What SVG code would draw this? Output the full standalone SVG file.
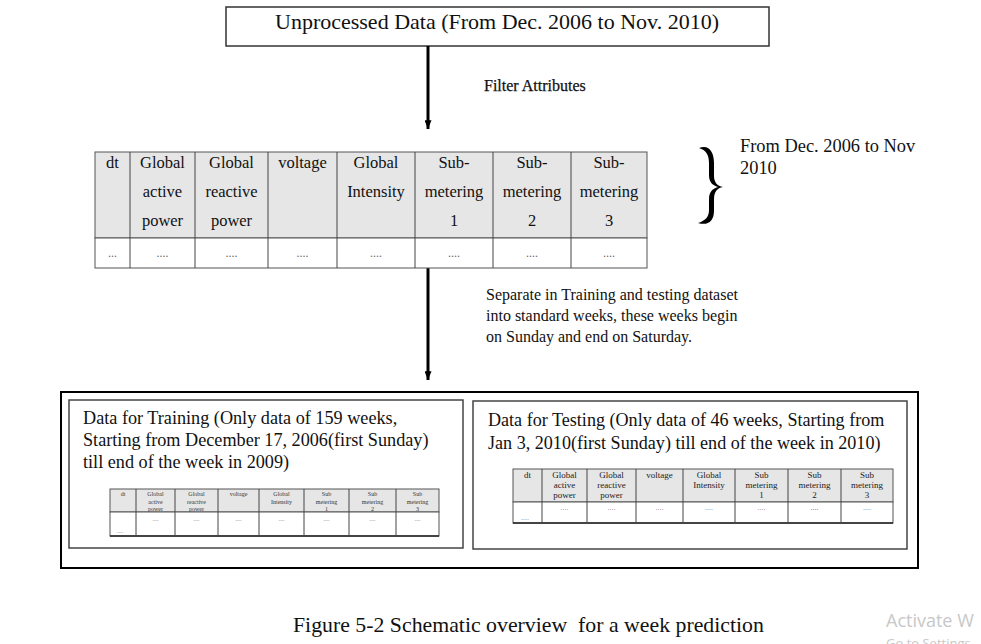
<svg xmlns="http://www.w3.org/2000/svg" width="981" height="644" viewBox="0 0 981 644">
  <style>
    .serif { font-family: "Liberation Serif", "Times New Roman", serif; fill: #111; }
    .box { fill: #fff; stroke: #333; stroke-width: 1.5; }
    .outer { fill: none; stroke: #000; stroke-width: 2; }
    .inner { fill: #fff; stroke: #444; stroke-width: 1.5; }
    .hdr { fill: #e6e6e6; stroke: #555; stroke-width: 1; }
    .cell { fill: #fff; stroke: #555; stroke-width: 1; }
    .grid { stroke: #444; stroke-width: 1; }
    .flow { stroke: #000; stroke-width: 3; fill: none; }
    .t16 { font-size: 16px; }
    .th { font-size: 16.5px; text-anchor: middle; }
    .dots { font-size: 12px; fill: #666; text-anchor: middle; }
    .small1 { font-size: 6px; text-anchor: middle; fill: #333; }
    .small2 { font-size: 9px; text-anchor: middle; fill: #222; }
    .sdots1 { font-size: 6px; fill: #888; text-anchor: middle; }
    .sdots2 { font-size: 8px; fill: #888; text-anchor: middle; }
    .wm { font-family: "Open Sans", "Noto Sans", sans-serif; fill: #c8c8c8; }
  </style>
  <defs>
    <marker id="head" viewBox="0 0 10 8" refX="10" refY="4" markerWidth="9" markerHeight="7" markerUnits="userSpaceOnUse" orient="auto">
      <path d="M0,0 L10,4 L0,8 Z" fill="#000"/>
    </marker>
  </defs>

  <!-- source data box -->
  <g id="node-unprocessed">
    <rect class="box" x="226" y="7" width="543" height="39"/>
    <text class="serif" x="497" y="29" font-size="22" text-anchor="middle">Unprocessed Data (From Dec. 2006 to Nov. 2010)</text>
  </g>

  <!-- connectors -->
  <g id="connectors">
    <line class="flow" x1="428" y1="46" x2="428" y2="129" marker-end="url(#head)"/>
    <line class="flow" x1="428" y1="268" x2="428" y2="380" marker-end="url(#head)"/>
  </g>

  <g id="label-filter">
    <text class="serif t16" x="484" y="91" stroke="#111" stroke-width="0.25">Filter Attributes</text>
  </g>

  <g id="label-separate">
    <text class="serif t16" x="486" y="300">Separate in Training and testing dataset</text>
    <text class="serif t16" x="486" y="321">into standard weeks, these weeks begin</text>
    <text class="serif t16" x="486" y="342">on Sunday and end on Saturday.</text>
  </g>

  <!-- attribute table -->
  <g id="node-attributes">
    <rect class="hdr" x="95" y="152" width="552" height="86"/>
    <rect class="cell" x="95" y="238" width="552" height="30"/>
    <g class="grid">
      <line x1="130" y1="152" x2="130" y2="268"/>
      <line x1="195" y1="152" x2="195" y2="268"/>
      <line x1="268" y1="152" x2="268" y2="268"/>
      <line x1="337" y1="152" x2="337" y2="268"/>
      <line x1="415" y1="152" x2="415" y2="268"/>
      <line x1="493" y1="152" x2="493" y2="268"/>
      <line x1="571" y1="152" x2="571" y2="268"/>
    </g>
    <g class="serif th">
      <text x="112.5" y="168">dt</text>
      <text x="162.5" y="168">Global</text>
      <text x="162.5" y="197">active</text>
      <text x="162.5" y="226">power</text>
      <text x="231.5" y="168">Global</text>
      <text x="231.5" y="197">reactive</text>
      <text x="231.5" y="226">power</text>
      <text x="302.5" y="168">voltage</text>
      <text x="376" y="168">Global</text>
      <text x="376" y="197">Intensity</text>
      <text x="454" y="168">Sub-</text>
      <text x="454" y="197">metering</text>
      <text x="454" y="226">1</text>
      <text x="532" y="168">Sub-</text>
      <text x="532" y="197">metering</text>
      <text x="532" y="226">2</text>
      <text x="609" y="168">Sub-</text>
      <text x="609" y="197">metering</text>
      <text x="609" y="226">3</text>
    </g>
    <g class="serif dots">
      <text x="112.5" y="257">...</text>
      <text x="162.5" y="257">....</text>
      <text x="231.5" y="257">....</text>
      <text x="302.5" y="257">....</text>
      <text x="376" y="257">....</text>
      <text x="454" y="257">....</text>
      <text x="532" y="257">....</text>
      <text x="609" y="257">....</text>
    </g>
  </g>

  <!-- date range brace -->
  <g id="node-range">
    <path d="M699 148 C709 144 714 152 714 163 L714 176 C714 182 717 186 723 187 C717 188 714 192 714 199 L714 211 C714 221 708 226 698 223 C705 221 709 217 709 210 L709 199 C709 192 712 189 718 187 C712 185 709 182 709 175 L709 163 C709 155 706 150 699 148 Z" fill="#000"/>
    <text class="serif" x="740" y="152" font-size="18.4">From Dec. 2006 to Nov</text>
    <text class="serif" x="740" y="174" font-size="18.4">2010</text>
  </g>

  <!-- split datasets -->
  <g id="node-split">
    <rect class="outer" x="61" y="392" width="857" height="176"/>
  </g>

  <g id="node-training">
    <rect class="inner" x="69" y="400" width="394" height="148"/>
    <text class="serif" x="83" y="424" font-size="18.2">Data for Training (Only data of 159 weeks,</text>
    <text class="serif" x="83" y="446" font-size="18.2">Starting from December 17, 2006(first Sunday)</text>
    <text class="serif" x="83" y="468" font-size="18.2">till end of the week in 2009)</text>
    <rect class="hdr" x="110" y="489" width="329" height="23"/>
    <rect class="cell" x="110" y="512" width="329" height="24"/>
    <line x1="110" y1="536" x2="439" y2="536" stroke="#222" stroke-width="1.5"/>
    <g class="grid">
      <line x1="136" y1="489" x2="136" y2="536"/>
      <line x1="175" y1="489" x2="175" y2="536"/>
      <line x1="218" y1="489" x2="218" y2="536"/>
      <line x1="259" y1="489" x2="259" y2="536"/>
      <line x1="304" y1="489" x2="304" y2="536"/>
      <line x1="349" y1="489" x2="349" y2="536"/>
      <line x1="396" y1="489" x2="396" y2="536"/>
    </g>
    <g class="serif small1">
      <text x="123" y="496">dt</text>
      <text x="155.5" y="496">Global</text>
      <text x="155.5" y="503.5">active</text>
      <text x="155.5" y="511">power</text>
      <text x="196.5" y="496">Global</text>
      <text x="196.5" y="503.5">reactive</text>
      <text x="196.5" y="511">power</text>
      <text x="238.5" y="496">voltage</text>
      <text x="281.5" y="496">Global</text>
      <text x="281.5" y="503.5">Intensity</text>
      <text x="326.5" y="496">Sub</text>
      <text x="326.5" y="503.5">metering</text>
      <text x="326.5" y="511">1</text>
      <text x="372.5" y="496">Sub</text>
      <text x="372.5" y="503.5">metering</text>
      <text x="372.5" y="511">2</text>
      <text x="417.5" y="496">Sub</text>
      <text x="417.5" y="503.5">metering</text>
      <text x="417.5" y="511">3</text>
    </g>
    <g class="serif sdots1">
      <text x="120" y="533">....</text>
      <text x="155.5" y="521">....</text>
      <text x="196.5" y="521">....</text>
      <text x="238.5" y="521">....</text>
      <text x="281.5" y="521">....</text>
      <text x="326.5" y="521">....</text>
      <text x="372.5" y="521">....</text>
      <text x="417.5" y="521">....</text>
    </g>
  </g>

  <g id="node-testing">
    <rect class="inner" x="473" y="401" width="434" height="148"/>
    <text class="serif" x="488" y="426" font-size="18.1">Data for Testing (Only data of 46 weeks, Starting from</text>
    <text class="serif" x="488" y="449" font-size="18.1">Jan 3, 2010(first Sunday) till end of the week in 2010)</text>
    <rect class="hdr" x="513" y="469" width="380" height="33"/>
    <rect class="cell" x="513" y="502" width="380" height="21"/>
    <line x1="513" y1="523" x2="893" y2="523" stroke="#222" stroke-width="1.5"/>
    <g class="grid">
      <line x1="542" y1="469" x2="542" y2="523"/>
      <line x1="587" y1="469" x2="587" y2="523"/>
      <line x1="636" y1="469" x2="636" y2="523"/>
      <line x1="683" y1="469" x2="683" y2="523"/>
      <line x1="735" y1="469" x2="735" y2="523"/>
      <line x1="788" y1="469" x2="788" y2="523"/>
      <line x1="841" y1="469" x2="841" y2="523"/>
    </g>
    <g class="serif small2">
      <text x="527.5" y="478">dt</text>
      <text x="564.5" y="478">Global</text>
      <text x="564.5" y="488">active</text>
      <text x="564.5" y="498">power</text>
      <text x="611.5" y="478">Global</text>
      <text x="611.5" y="488">reactive</text>
      <text x="611.5" y="498">power</text>
      <text x="659.5" y="478">voltage</text>
      <text x="709" y="478">Global</text>
      <text x="709" y="488">Intensity</text>
      <text x="761.5" y="478">Sub</text>
      <text x="761.5" y="488">metering</text>
      <text x="761.5" y="498">1</text>
      <text x="814.5" y="478">Sub</text>
      <text x="814.5" y="488">metering</text>
      <text x="814.5" y="498">2</text>
      <text x="867" y="478">Sub</text>
      <text x="867" y="488">metering</text>
      <text x="867" y="498">3</text>
    </g>
    <g class="serif sdots2">
      <text x="525" y="520">....</text>
      <text x="564.5" y="510">....</text>
      <text x="611.5" y="510">....</text>
      <text x="659.5" y="510">....</text>
      <text x="709" y="510">....</text>
      <text x="761.5" y="510">....</text>
      <text x="814.5" y="510" fill="#a04060">....</text>
      <text x="867" y="510">....</text>
    </g>
  </g>

  <!-- caption -->
  <text class="serif" x="293" y="632" font-size="21.8" xml:space="preserve">Figure 5-2 Schematic overview  for a week prediction</text>

  <!-- system watermark -->
  <text class="wm" x="886" y="627" font-size="18">Activate W</text>
  <text class="wm" x="886" y="648" font-size="13">Go to Settings</text>
</svg>
